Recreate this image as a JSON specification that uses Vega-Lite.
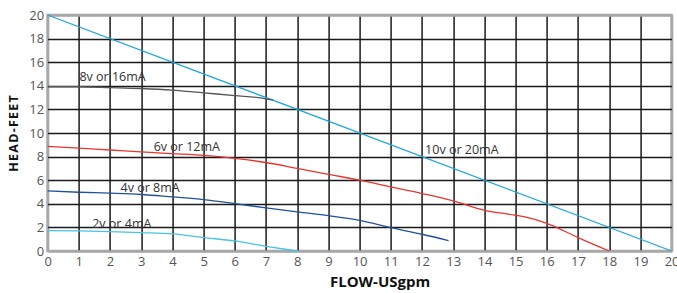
{
  "$schema": "https://vega.github.io/schema/vega-lite/v6.json",
  "width": 624,
  "height": 236,
  "autosize": {"type": "none"},
  "padding": {"left": 47.6, "top": 15, "right": 5.4, "bottom": 42},
  "config": {
    "view": {"stroke": "#a8a8a8", "strokeWidth": 2.5},
    "font": "Open Sans",
    "axis": {
      "domain": false,
      "ticks": false,
      "grid": true,
      "labelOverlap": false,
      "labelBound": false,
      "labelFlush": false,
      "gridColor": {"condition": {"test": "datum.value === 0 || datum.value === 20", "value": "#a8a8a8"}, "value": "#1a1a1a"},
      "gridWidth": {"condition": {"test": "datum.value === 0 || datum.value === 20", "value": 2.5}, "value": 1.5},
      "labelFont": "Open Sans",
      "labelFontSize": 13,
      "labelColor": "#555555",
      "titleFont": "Open Sans",
      "titleFontWeight": "bold",
      "titleColor": "#111111"
    }
  },
  "datasets": {
    "curves": [
      {"s": "10v or 20mA", "x": 0, "y": 20},
      {"s": "10v or 20mA", "x": 20, "y": 0},
      {"s": "8v or 16mA", "x": 0, "y": 13.92},
      {"s": "8v or 16mA", "x": 1, "y": 13.92},
      {"s": "8v or 16mA", "x": 2, "y": 13.85},
      {"s": "8v or 16mA", "x": 3, "y": 13.77},
      {"s": "8v or 16mA", "x": 4, "y": 13.63},
      {"s": "8v or 16mA", "x": 5, "y": 13.4},
      {"s": "8v or 16mA", "x": 6, "y": 13.17},
      {"s": "8v or 16mA", "x": 7, "y": 12.9},
      {"s": "8v or 16mA", "x": 7.23, "y": 12.78},
      {"s": "6v or 12mA", "x": 0, "y": 8.87},
      {"s": "6v or 12mA", "x": 1, "y": 8.72},
      {"s": "6v or 12mA", "x": 2, "y": 8.56},
      {"s": "6v or 12mA", "x": 3, "y": 8.4},
      {"s": "6v or 12mA", "x": 4, "y": 8.25},
      {"s": "6v or 12mA", "x": 5, "y": 8.1},
      {"s": "6v or 12mA", "x": 6, "y": 7.85},
      {"s": "6v or 12mA", "x": 7, "y": 7.5},
      {"s": "6v or 12mA", "x": 8, "y": 7.0},
      {"s": "6v or 12mA", "x": 9, "y": 6.5},
      {"s": "6v or 12mA", "x": 10, "y": 6.0},
      {"s": "6v or 12mA", "x": 11, "y": 5.43},
      {"s": "6v or 12mA", "x": 12, "y": 4.87},
      {"s": "6v or 12mA", "x": 13, "y": 4.25},
      {"s": "6v or 12mA", "x": 14, "y": 3.45},
      {"s": "6v or 12mA", "x": 15, "y": 3.03},
      {"s": "6v or 12mA", "x": 15.3, "y": 2.89},
      {"s": "6v or 12mA", "x": 16, "y": 2.35},
      {"s": "6v or 12mA", "x": 17, "y": 1.14},
      {"s": "6v or 12mA", "x": 18, "y": 0},
      {"s": "4v or 8mA", "x": 0, "y": 5.09},
      {"s": "4v or 8mA", "x": 1, "y": 4.98},
      {"s": "4v or 8mA", "x": 2, "y": 4.9},
      {"s": "4v or 8mA", "x": 3, "y": 4.79},
      {"s": "4v or 8mA", "x": 4, "y": 4.58},
      {"s": "4v or 8mA", "x": 5, "y": 4.36},
      {"s": "4v or 8mA", "x": 6, "y": 4.02},
      {"s": "4v or 8mA", "x": 7, "y": 3.65},
      {"s": "4v or 8mA", "x": 8, "y": 3.31},
      {"s": "4v or 8mA", "x": 9, "y": 3.0},
      {"s": "4v or 8mA", "x": 10, "y": 2.6},
      {"s": "4v or 8mA", "x": 11, "y": 1.98},
      {"s": "4v or 8mA", "x": 12, "y": 1.42},
      {"s": "4v or 8mA", "x": 12.85, "y": 0.88},
      {"s": "2v or 4mA", "x": 0, "y": 1.73},
      {"s": "2v or 4mA", "x": 1, "y": 1.7},
      {"s": "2v or 4mA", "x": 2, "y": 1.65},
      {"s": "2v or 4mA", "x": 3, "y": 1.56},
      {"s": "2v or 4mA", "x": 4, "y": 1.45},
      {"s": "2v or 4mA", "x": 5, "y": 1.14},
      {"s": "2v or 4mA", "x": 6, "y": 0.85},
      {"s": "2v or 4mA", "x": 7, "y": 0.4},
      {"s": "2v or 4mA", "x": 8, "y": 0}
    ],
    "labels": [
      {"x": 1.02, "y": 14.4, "t": "8v or 16mA"},
      {"x": 3.4, "y": 8.45, "t": "6v or 12mA"},
      {"x": 2.34, "y": 5.02, "t": "4v or 8mA"},
      {"x": 1.43, "y": 1.97, "t": "2v or 4mA"},
      {"x": 12.1, "y": 8.2, "t": "10v or 20mA"}
    ]
  },
  "layer": [
    {
      "data": {"name": "curves"},
      "mark": {"type": "line", "interpolate": "monotone", "strokeWidth": 1.3},
      "encoding": {
        "x": {"field": "x", "type": "quantitative", "scale": {"domain": [0, 20], "nice": false},
              "axis": {"values": [0,1,2,3,4,5,6,7,8,9,10,11,12,13,14,15,16,17,18,19,20], "tickCount": 21, "title": "FLOW-USgpm", "titleFontSize": 15, "titleX": 332, "labelPadding": 4, "titlePadding": 6}},
        "y": {"field": "y", "type": "quantitative", "scale": {"domain": [0, 20], "nice": false},
              "axis": {"values": [0,2,4,6,8,10,12,14,16,18,20], "tickCount": 11, "title": "H\u200aE\u200aA\u200aD\u200a-\u200aF\u200aE\u200aE\u200aT", "titleFontSize": 12.5, "labelPadding": 4, "titlePadding": 8}},
        "color": {"field": "s", "type": "nominal", "legend": null,
                  "scale": {"domain": ["10v or 20mA", "8v or 16mA", "6v or 12mA", "4v or 8mA", "2v or 4mA"],
                            "range": ["#1ea5e0", "#555555", "#e8352e", "#22509c", "#45c3e6"]}}
      }
    },
    {
      "data": {"name": "labels"},
      "mark": {"type": "text", "align": "left", "baseline": "alphabetic", "fontSize": 12.5, "color": "#333333"},
      "encoding": {
        "x": {"field": "x", "type": "quantitative"},
        "y": {"field": "y", "type": "quantitative"},
        "text": {"field": "t"}
      }
    }
  ]
}
